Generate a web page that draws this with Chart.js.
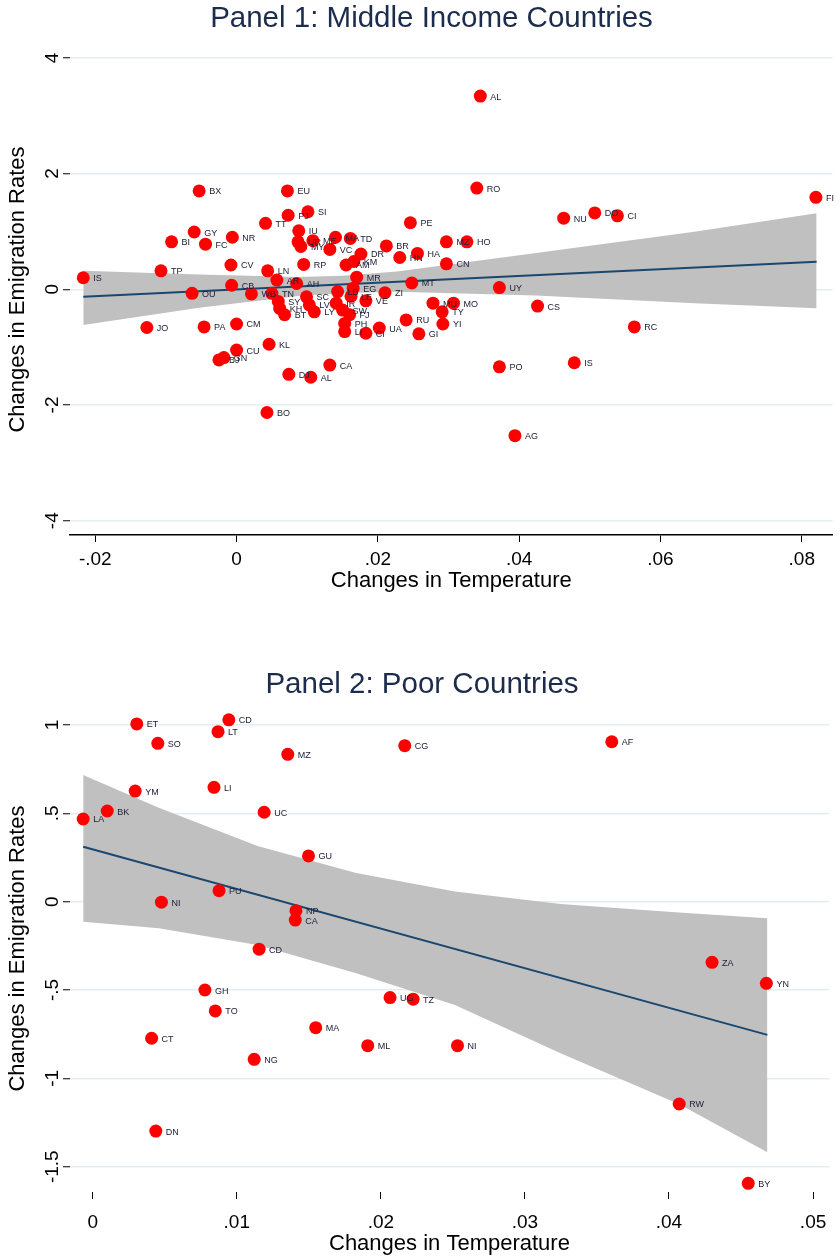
<!DOCTYPE html>
<html>
<head>
<meta charset="utf-8">
<script src="https://cdn.jsdelivr.net/npm/chart.js@4.4.1/dist/chart.umd.min.js"></script>
<style>
html, body { margin: 0; padding: 0; background: #fff; }
#wrap { position: relative; width: 839px; height: 1260px; overflow: hidden; }
canvas { position: absolute; left: 0; }
</style>
</head>
<body>
<div id="wrap">
	<canvas id="panel1" width="839" height="600" style="top:0"></canvas>
	<canvas id="panel2" width="839" height="620" style="top:640px"></canvas>
</div>
<script>
// Panel 1: middle income countries
const p1Codes = ['IS','TP','BX','GY','BI','FC','NR','CV','CB','OU','JO','PA','CM','CU','GN','BJ','KL','TT','EU','PJ',
	'SI','IU','UR','MY','ME','VC','MA','TD','RP','LN','AR','AH','WB','TN','SY','KH','BT','SC','LV','LY',
	'LB','IR','SW','FJ','PH','LI','AM','KM','MR','EG','ZI','VE','CI','UA','RU','GI','YI','MU','MO','TY',
	'MT','UY','CS','PO','IS','AG','RC','NU','DO','CI','FI','RO','AL','PE','BR','DR','HN','HA','MZ','HO',
	'CN','CA','DJ','AL','BO','LE']
const p1Temp = [-0.0217,-0.0107,-0.0053,-0.0060,-0.0092,-0.0044,-0.0006,-0.0008,-0.0007,-0.0063,-0.0127,-0.0046,0.0000,0.0000,-0.0018,-0.0025,0.0046,0.0041,0.0072,0.0073,
	0.0101,0.0088,0.0087,0.0091,0.0108,0.0132,0.0140,0.0161,0.0095,0.0044,0.0057,0.0085,0.0021,0.0050,0.0059,0.0061,0.0068,0.0099,0.0103,0.0110,
	0.0143,0.0141,0.0150,0.0160,0.0153,0.0153,0.0155,0.0166,0.0170,0.0165,0.0210,0.0183,0.0183,0.0202,0.0240,0.0258,0.0292,0.0278,0.0307,0.0291,
	0.0248,0.0372,0.0426,0.0372,0.0478,0.0394,0.0563,0.0463,0.0507,0.0539,0.0820,0.0340,0.0345,0.0246,0.0212,0.0176,0.0231,0.0256,0.0297,0.0326,
	0.0297,0.0132,0.0074,0.0105,0.0043,0.0162]
const p1Emig = [0.20,0.32,1.70,0.99,0.82,0.78,0.90,0.42,0.07,-0.07,-0.66,-0.65,-0.60,-1.05,-1.18,-1.22,-0.95,1.14,1.70,1.28,
	1.34,1.01,0.82,0.74,0.84,0.69,0.90,0.88,0.43,0.32,0.16,0.10,-0.08,-0.07,-0.21,-0.33,-0.44,-0.13,-0.27,-0.39,
	-0.04,-0.24,-0.36,-0.44,-0.59,-0.73,0.42,0.48,0.21,0.02,-0.06,-0.20,-0.76,-0.67,-0.53,-0.77,-0.60,-0.24,-0.24,-0.39,
	0.11,0.03,-0.29,-1.34,-1.27,-2.53,-0.65,1.23,1.32,1.27,1.59,1.75,3.34,1.15,0.75,0.61,0.55,0.62,0.82,0.82,
	0.44,-1.31,-1.47,-1.52,-2.13,-0.12]
const p1FitTemp = [-0.0217, 0.0821]
const p1FitEmig = [-0.128, 0.477]
const p1BandTemp = [-0.0217, -0.0053, 0.0087, 0.0150, 0.0227, 0.0424, 0.0648, 0.0821]
const p1BandHigh = [0.322, 0.254, 0.214, 0.235, 0.306, 0.627, 0.994, 1.314]
const p1BandLow = [-0.617, -0.320, -0.118, -0.062, -0.043, -0.107, -0.240, -0.328]
const p1XTicks = [-0.02, 0, 0.02, 0.04, 0.06, 0.08]
const p1XLabels = ['-.02', '0', '.02', '.04', '.06', '.08']
const p1YTicks = [-4, -2, 0, 2, 4]
const p1YLabels = ['-4', '-2', '0', '2', '4']

// Panel 2: poor countries
const p2Codes = ['ET','CD','LT','SO','MZ','YM','LI','BK','LA','UC','GU','PU','CG','AF','NI','NP','CA','CD','GH','TO',
	'UG','TZ','MA','CT','ML','NG','NI','ZA','YN','RW','BY','DN']
const p2Temp = [0.00306,0.00945,0.00870,0.00452,0.01354,0.00295,0.00842,0.00101,-0.00066,0.01190,0.01498,0.00877,0.02166,0.03603,0.00477,0.01411,0.01406,0.01155,0.00779,0.00851,
	0.02064,0.02224,0.01548,0.00409,0.01909,0.01121,0.02532,0.04299,0.04676,0.04071,0.04550,0.00438]
const p2Emig = [1.006,1.029,0.962,0.896,0.834,0.626,0.647,0.513,0.468,0.506,0.259,0.062,0.883,0.905,-0.003,-0.051,-0.104,-0.269,-0.500,-0.618,
	-0.543,-0.552,-0.713,-0.773,-0.815,-0.892,-0.815,-0.343,-0.462,-1.145,-1.594,-1.298]
const p2FitTemp = [-0.00066, 0.04683]
const p2FitEmig = [0.311, -0.754]
const p2BandTemp = [-0.00066, 0.00459, 0.01144, 0.01829, 0.02514, 0.03247, 0.04068, 0.04683]
const p2BandHigh = [0.717, 0.531, 0.315, 0.162, 0.058, -0.013, -0.061, -0.094]
const p2BandLow = [-0.113, -0.151, -0.245, -0.405, -0.585, -0.858, -1.145, -1.418]
const p2XTicks = [0, 0.01, 0.02, 0.03, 0.04, 0.05]
const p2XLabels = ['0', '.01', '.02', '.03', '.04', '.05']
const p2YTicks = [-1.5, -1, -0.5, 0, 0.5, 1]
const p2YLabels = ['-1.5', '-1', '-.5', '0', '.5', '1']

const font = '"Liberation Sans", Arial, sans-serif'
const zip = (xs, ys) => xs.map((x, i) => ({ x: x, y: ys[i] }))

// country codes next to the dots
const pointLabels = {
	id: 'pointLabels',
	afterDatasetsDraw(chart) {
		const ctx = chart.ctx
		chart.data.datasets.forEach((ds, i) => {
			if (!ds.codes) return
			const meta = chart.getDatasetMeta(i)
			ctx.save()
			ctx.font = '9px ' + font
			ctx.fillStyle = '#20203a'
			ctx.textBaseline = 'middle'
			meta.data.forEach((pt, j) => {
				ctx.fillText(ds.codes[j], pt.x + 10, pt.y + 1)
			})
			ctx.restore()
		})
	},
}

function makePanel(id, p) {
	const ctx = document.getElementById(id).getContext('2d')
	return new Chart(ctx, {
		type: 'scatter',
		data: {
			datasets: [
				{
					type: 'scatter',
					data: zip(p.temp, p.emig),
					codes: p.codes,
					backgroundColor: '#ff0000',
					borderWidth: 0,
					pointRadius: 6.5,
					pointHoverRadius: 6.5,
					order: 1,
				},
				{
					type: 'line',
					data: zip(p.fitTemp, p.fitEmig),
					borderColor: '#1a476f',
					borderWidth: 2,
					pointRadius: 0,
					fill: false,
					order: 2,
				},
				{
					type: 'line',
					data: zip(p.bandTemp, p.bandHigh),
					borderColor: 'rgba(0,0,0,0)',
					borderWidth: 0,
					pointRadius: 0,
					backgroundColor: '#c0c0c0',
					fill: '+1',
					order: 3,
				},
				{
					type: 'line',
					data: zip(p.bandTemp, p.bandLow),
					borderColor: 'rgba(0,0,0,0)',
					borderWidth: 0,
					pointRadius: 0,
					fill: false,
					order: 4,
				},
			],
		},
		options: {
			responsive: false,
			animation: false,
			events: [],
			layout: { padding: p.pad },
			plugins: {
				legend: { display: false },
				tooltip: { enabled: false },
				title: {
					display: true,
					text: p.title,
					color: '#1c2c4c',
					font: { family: font, size: 29.5, weight: 'normal' },
					padding: p.titlePad,
				},
			},
			scales: {
				x: {
					type: 'linear',
					min: p.xMin,
					max: p.xMax,
					afterBuildTicks: (s) => { s.ticks = p.xTicks.map((v) => ({ value: v })) },
					afterFit: (s) => { s.height = p.xHeight },
					ticks: {
						callback: (v, i) => p.xLabels[i],
						color: '#000',
						font: { family: font, size: 19 },
						padding: p.xTickPad,
						maxRotation: 0,
						autoSkip: false,
					},
					grid: { drawOnChartArea: false, tickLength: 7, tickColor: '#000', tickWidth: 1 },
					border: { display: p.xBorder, color: '#000', width: 1.5 },
					title: {
						display: true,
						text: 'Changes in Temperature',
						color: '#000',
						font: { family: font, size: 22 },
						padding: 0,
					},
				},
				y: {
					type: 'linear',
					min: p.yMin,
					max: p.yMax,
					afterBuildTicks: (s) => { s.ticks = p.yTicks.map((v) => ({ value: v })) },
					afterFit: (s) => { s.width = 70 - p.pad.left },
					ticks: {
						callback: (v, i) => p.yLabels[i],
						color: '#000',
						font: { family: font, size: 19 },
						padding: p.yTickPad,
						minRotation: 90,
						maxRotation: 90,
						crossAlign: 'center',
						autoSkip: false,
					},
					grid: { color: '#e4edf0', lineWidth: 1.5, tickLength: 7, tickColor: '#000', tickWidth: 1 },
					border: { display: false },
					title: {
						display: true,
						text: 'Changes in Emigration Rates',
						color: '#000',
						font: { family: font, size: 22 },
						padding: { top: 5 - p.pad.left },
					},
				},
			},
		},
		plugins: [pointLabels],
	})
}

makePanel('panel1', {
	title: 'Panel 1: Middle Income Countries',
	codes: p1Codes, temp: p1Temp, emig: p1Emig,
	fitTemp: p1FitTemp, fitEmig: p1FitEmig,
	bandTemp: p1BandTemp, bandHigh: p1BandHigh, bandLow: p1BandLow,
	xTicks: p1XTicks, xLabels: p1XLabels, yTicks: p1YTicks, yLabels: p1YLabels,
	xMin: -0.02358, xMax: 0.08435, yMin: -4.247, yMax: 4.240,
	pad: { left: 24, right: 0, top: 0, bottom: 5.4 },
	titlePad: { top: 1, bottom: 7.6 },
	xHeight: 59.6, xTickPad: 6, yTickPad: 1.5, xBorder: true,
})

makePanel('panel2', {
	title: 'Panel 2: Poor Countries',
	codes: p2Codes, temp: p2Temp, emig: p2Emig,
	fitTemp: p2FitTemp, fitEmig: p2FitEmig,
	bandTemp: p2BandTemp, bandHigh: p2BandHigh, bandLow: p2BandLow,
	xTicks: p2XTicks, xLabels: p2XLabels, yTicks: p2YTicks, yLabels: p2YLabels,
	xMin: -0.001575, xMax: 0.0511, yMin: -1.643, yMax: 1.113,
	pad: { left: 5, right: 0, top: 0, bottom: 2.4 },
	titlePad: { top: 27, bottom: 2.6 },
	xHeight: 65.6, xTickPad: 12.6, yTickPad: -6.5, xBorder: false,
})
</script>
</body>
</html>
